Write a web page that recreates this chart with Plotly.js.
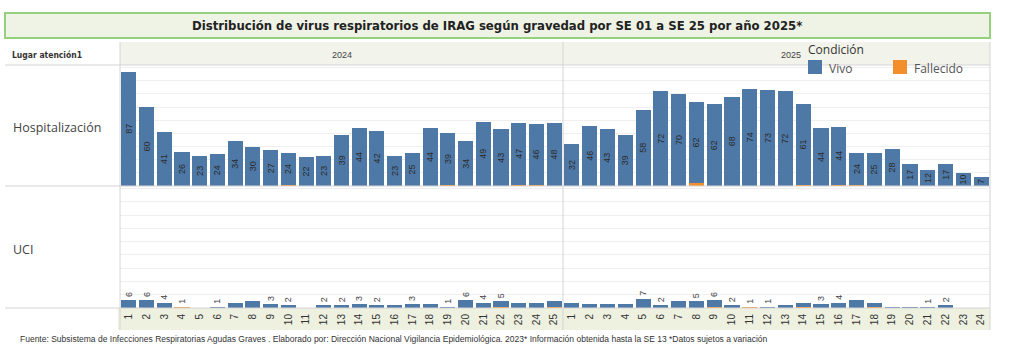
<!DOCTYPE html>
<html><head><meta charset="utf-8">
<script src="https://cdn.plot.ly/plotly-3.0.1.min.js"></script>
<style>html,body{margin:0;padding:0;background:#fff}#chart{width:1024px;height:351px}</style>
</head><body><div id="chart"></div>
<script>
// ---- Data ----
const weeks2024 = ['1','2','3','4','5','6','7','8','9','10','11','12','13','14','15','16','17','18','19','20','21','22','23','24','25'];
const weeks2025 = ['1','2','3','4','5','6','7','8','9','10','11','12','13','14','15','16','17','18','19','20','21','22','23','24'];

const hosp2024Vivo = [87,60,41,26,23,24,34,30,27,24,22,23,39,44,42,23,25,44,39,34,49,43,47,46,48];
const hosp2024Fall = [0,0,0,0,0,0,0,0,0,1,0,0,0,0,0,0,0,0,1,0,0,0,1,1,0];
const hosp2025Vivo = [32,46,43,39,58,72,70,62,62,68,74,73,72,61,44,44,24,25,28,17,12,17,10,7];
const hosp2025Fall = [0,0,0,0,0,0,0,2,0,0,0,0,0,1,0,1,1,0,0,0,0,0,0,0];

const uci2024Vivo = [6,6,4,0,0,1,4,5,3,2,0,2,2,3,2,2,3,3,1,6,4,4,4,4,4];
const uci2024Fall = [0,0,0,1,0,0,0,0,0,0,0,0,0,0,0,0,0,0,0,0,0,1,0,0,1];
const uci2024Labels = ['6','6','4','1','','1','','','3','2','','2','2','3','2','','3','','1','6','4','5','','',''];
const uci2025Vivo = [4,3,3,3,7,2,5,5,5,2,0,1,2,3,3,4,6,3,1,1,1,2,0,0];
const uci2025Fall = [0,0,0,0,0,0,0,0,1,0,1,0,0,1,0,0,0,1,0,0,0,0,0,0];
const uci2025Labels = ['','','','','7','2','','5','6','2','1','1','','','3','4','','','','','1','2','',''];

const years = ['2024','2025'];
const rowNames = ['Hospitalización','UCI'];
const condNames = ['Vivo','Fallecido'];

// ---- Style ----
const BLUE = '#4e79a7', ORANGE = '#f28e2b';
const W = 1024, H = 351;
const px = v => v / W;
const py = v => 1 - v / H;
const TXT = {family:'Liberation Sans, Arial', size:9, color:'#2b2b2b'};

const traces = [];
function add(x, vivo, fall, xa, ya, labels) {
  // labels of stacks whose Vivo part is empty go on the Fallecido part
  const fallText = labels ? labels.map((l, i) => vivo[i] === 0 ? l : '') : null;
  const vivoText = labels ? labels.map((l, i) => vivo[i] === 0 ? '' : l) : vivo.map(String);
  traces.push({type:'bar', x:x, y:fall, name:condNames[1], xaxis:xa, yaxis:ya,
    marker:{color:ORANGE}, showlegend:false, hoverinfo:'x+y+name',
    text: fallText || undefined, textposition: fallText ? 'outside' : 'none', textangle:-90, cliponaxis:false,
    outsidetextfont:{family:TXT.family, size:9, color:'#444'}});
  traces.push({type:'bar', x:x, y:vivo, name:condNames[0], xaxis:xa, yaxis:ya,
    marker:{color:BLUE}, showlegend:false, hoverinfo:'x+y+name',
    text: vivoText,
    textposition: labels ? 'auto' : 'inside',
    insidetextanchor:'middle', textangle:-90, cliponaxis:false,
    insidetextfont:TXT,
    outsidetextfont:{family:TXT.family, size:9, color:'#444'}});
}
add(weeks2024, hosp2024Vivo, hosp2024Fall, 'x', 'y', null);
add(weeks2025, hosp2025Vivo, hosp2025Fall, 'x2', 'y', null);
add(weeks2024, uci2024Vivo, uci2024Fall, 'x', 'y2', uci2024Labels);
add(weeks2025, uci2025Vivo, uci2025Fall, 'x2', 'y2', uci2025Labels);

const xL = 120, xM = 563, xR = 990;
const yHead = 42, yTop = 65, yMid = 186, yBot = 308, yBand = 330;

const grey = '#d4d4d4';
const shapes = [
  {type:'rect', xref:'paper', yref:'paper', x0:px(5), x1:px(xR), y0:py(38), y1:py(13),
   fillcolor:'#eef3e6', line:{color:'#95d07c', width:2}, layer:'below'},
  {type:'rect', xref:'paper', yref:'paper', x0:px(xL), x1:px(xR), y0:py(yTop), y1:py(yHead),
   fillcolor:'#f2f3ea', line:{width:0}, layer:'below'},
  {type:'rect', xref:'paper', yref:'paper', x0:px(xL-2), x1:px(xR), y0:py(yBand), y1:py(yBot),
   fillcolor:'#eef1e0', line:{width:0}, layer:'below'},
  {type:'line', xref:'paper', yref:'paper', x0:px(5), x1:px(xR), y0:py(yTop), y1:py(yTop), line:{color:grey, width:1}},
  {type:'line', xref:'paper', yref:'paper', x0:px(5), x1:px(xR), y0:py(yMid), y1:py(yMid), line:{color:grey, width:1}},
  {type:'line', xref:'paper', yref:'paper', x0:px(5), x1:px(xR), y0:py(yBot), y1:py(yBot), line:{color:grey, width:1}},
  {type:'line', xref:'paper', yref:'paper', x0:px(xL), x1:px(xL), y0:py(yBand), y1:py(yHead), line:{color:grey, width:1}},
  {type:'line', xref:'paper', yref:'paper', x0:px(xM), x1:px(xM), y0:py(yBand), y1:py(yHead), line:{color:grey, width:1}},
  {type:'line', xref:'paper', yref:'paper', x0:px(xR), x1:px(xR), y0:py(yBand), y1:py(yHead), line:{color:grey, width:1}},
  // legend swatches
  {type:'rect', xref:'paper', yref:'paper', x0:px(808), x1:px(822), y0:py(74), y1:py(60), fillcolor:BLUE, line:{width:0}},
  {type:'rect', xref:'paper', yref:'paper', x0:px(893), x1:px(907), y0:py(74), y1:py(60), fillcolor:ORANGE, line:{width:0}}
];

const ann = (text, x, y, opts) => Object.assign({text:text, xref:'paper', yref:'paper', x:px(x), y:py(y),
  showarrow:false, xanchor:'left', yanchor:'middle'}, opts||{});
const COND = 'DejaVu Sans Condensed, Liberation Sans';

const annotations = [
  ann('<b>Distribución de virus respiratorios de IRAG según gravedad por SE 01 a SE 25 por año 2025*</b>', 497, 25,
      {xanchor:'center', font:{family:COND, size:13, color:'#222'}}),
  ann('<b>Lugar atención1</b>', 10, 55, {font:{family:COND, size:8.5, color:'#333'}}),
  ann(years[0], 342, 55, {xanchor:'center', font:{family:'Liberation Sans, Arial', size:9, color:'#444'}}),
  ann(years[1], 791, 55, {xanchor:'center', font:{family:'Liberation Sans, Arial', size:9, color:'#444'}}),
  ann(rowNames[0], 11, 128, {font:{family:'Open Sans, Liberation Sans', size:12.5, color:'#444'}}),
  ann(rowNames[1], 11, 249, {font:{family:'Open Sans, Liberation Sans', size:12.5, color:'#444'}}),
  ann('Condición', 806, 50, {font:{family:'Open Sans, Liberation Sans', size:12, color:'#333'}}),
  ann(condNames[0], 827, 69, {font:{family:'Open Sans, Liberation Sans', size:12, color:'#555'}}),
  ann(condNames[1], 912, 69, {font:{family:'Open Sans, Liberation Sans', size:12, color:'#555'}}),
  ann('Fuente: Subsistema de Infecciones Respiratorias Agudas Graves . Elaborado por: Dirección Nacional Vigilancia Epidemiológica. 2023* Información obtenida hasta la SE 13 *Datos sujetos a variación',
      18, 339, {font:{family:'Liberation Sans, Arial', size:8.5, color:'#333'}})
];

const xCommon = {type:'category', tickangle:-90, ticks:'', showgrid:false, showline:false, zeroline:false,
  tickfont:{family:'Liberation Sans, Arial', size:10, color:'#333'}, anchor:'y2', ticklabelstandoff:3, fixedrange:true};
const yCommon = {range:[0,92], dtick:10, showticklabels:false, showline:false, zeroline:false,
  gridcolor:'#efefef', gridwidth:1, fixedrange:true};

const layout = {
  width:W, height:H, margin:{l:0, r:0, t:0, b:0},
  paper_bgcolor:'#ffffff', plot_bgcolor:'rgba(0,0,0,0)',
  barmode:'stack', bargap:0.15, showlegend:false,
  uniformtext:{mode:'show', minsize:9},
  xaxis: Object.assign({}, xCommon, {domain:[px(xL), px(xM)]}),
  xaxis2: Object.assign({}, xCommon, {domain:[px(xM), px(xR)]}),
  yaxis: Object.assign({}, yCommon, {domain:[py(yMid), py(yTop)], anchor:'x'}),
  yaxis2: Object.assign({}, yCommon, {domain:[py(yBot), py(yMid)], anchor:'x'}),
  shapes:shapes, annotations:annotations
};

Plotly.newPlot('chart', traces, layout, {displayModeBar:false, staticPlot:true});
</script></body></html>
